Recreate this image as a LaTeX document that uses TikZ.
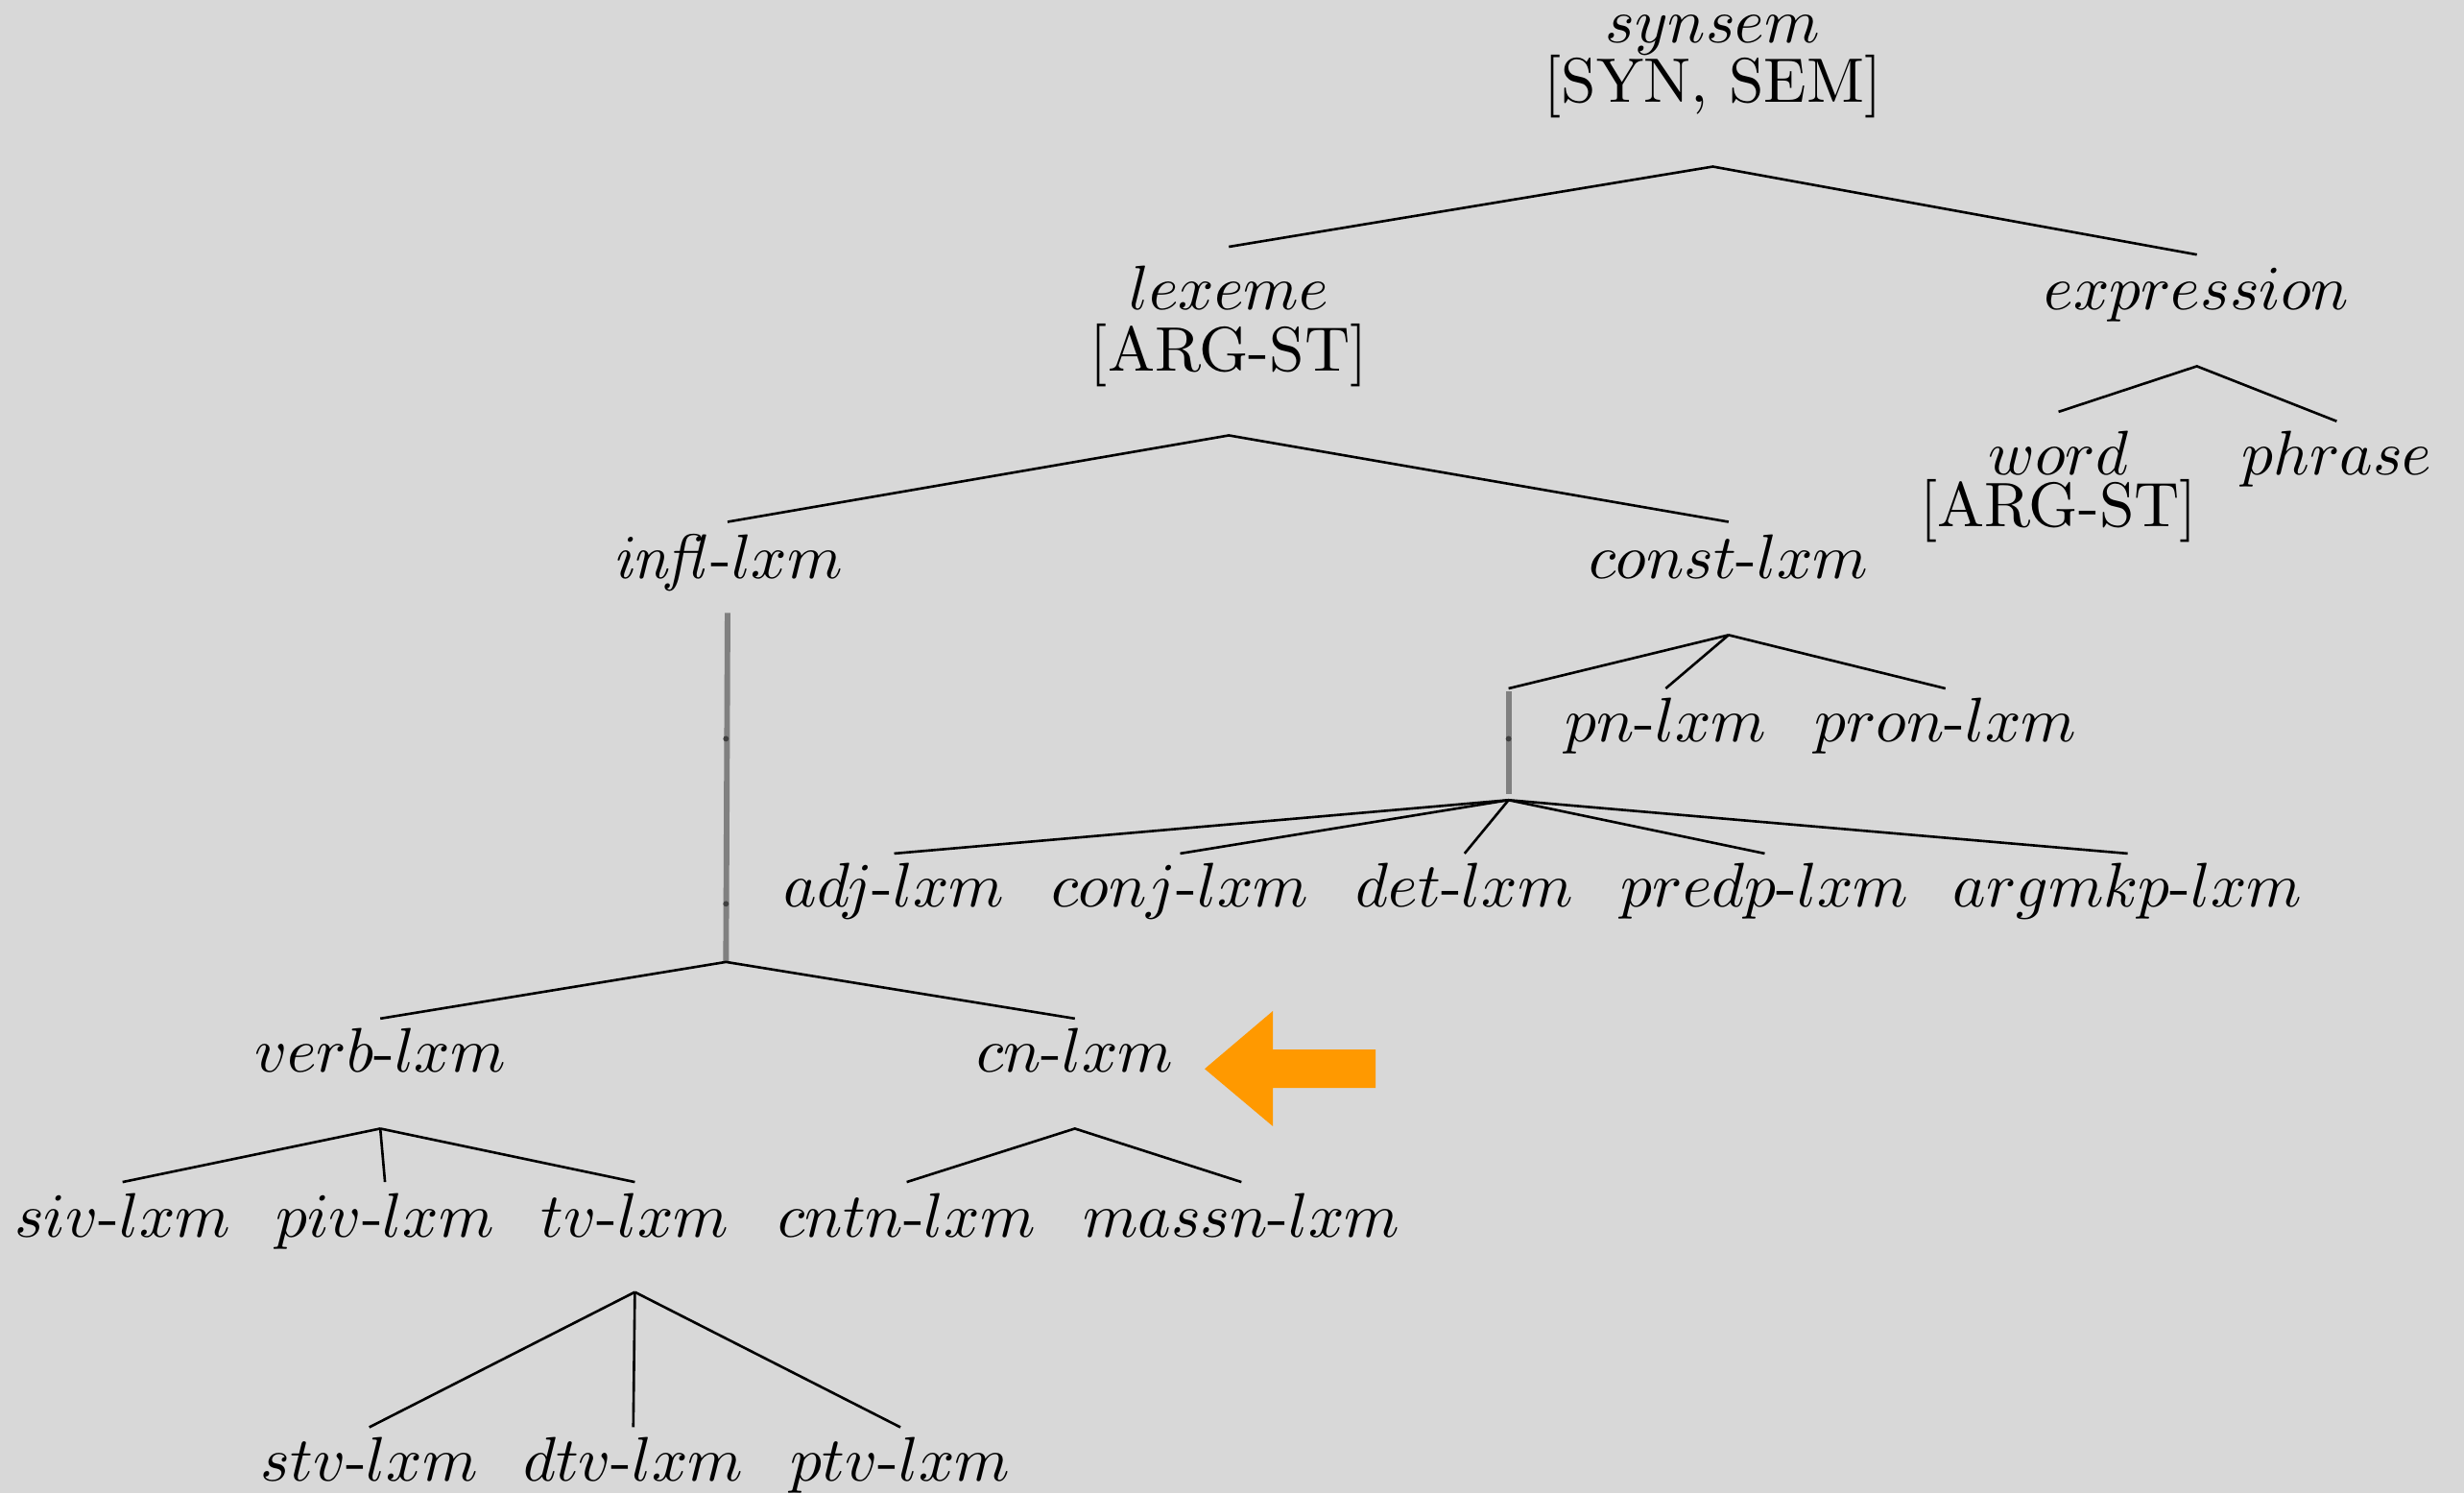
\documentclass[tikz,border=0pt]{standalone}
\definecolor{bg}{HTML}{D8D8D8}
\definecolor{arroworange}{HTML}{FF9900}
\begin{document}
\begin{tikzpicture}[x=0.25pt,y=-0.25pt,
  lbl/.style={anchor=base,inner sep=0pt,outer sep=0pt,font=\fontsize{10}{12}\selectfont},
  edge/.style={draw=black,line width=0.4pt},
  elide/.style={draw=black!50,line width=0.9pt},
  dotmark/.style={fill=black!75,draw=none}]
\fill[bg] (0,0) rectangle (1568,950);
\useasboundingbox (0,0) rectangle (1568,950);

% labels
\node[lbl] (synsem) at (1090,27.5) {$synsem$};
\node[lbl] (synsemf) at (1090,65) {[SYN, SEM]};
\node[lbl] (lexeme) at (782,197) {$lexeme$};
\node[lbl] (lexemef) at (782,236) {[ARG-ST]};
\node[lbl] (expression) at (1398,197) {$expression$};
\node[lbl] (word) at (1310,302) {$word$};
\node[lbl] (wordf) at (1310,335) {[ARG-ST]};
\node[lbl] (phrase) at (1487,302) {$phrase$};
\node[lbl] (infl) at (463,368) {$\mathit{infl}$-$lxm$};
\node[lbl] (const) at (1100,368) {$const$-$lxm$};
\node[lbl] (pn) at (1060,472) {$pn$-$lxm$};
\node[lbl] (pron) at (1238,472) {$pron$-$lxm$};
\node[lbl] (adj) at (569,577) {$adj$-$lxm$};
\node[lbl] (conj) at (751,577) {$conj$-$lxm$};
\node[lbl] (det) at (932,577) {$det$-$lxm$};
\node[lbl] (predp) at (1123,577) {$predp$-$lxm$};
\node[lbl] (argmkp) at (1354,577) {$argmkp$-$lxm$};
\node[lbl] (verb) at (242,682) {$verb$-$lxm$};
\node[lbl] (cn) at (684,682) {$cn$-$lxm$};
\node[lbl] (siv) at (78,787) {$siv$-$lxm$};
\node[lbl] (piv) at (245,787) {$piv$-$lxm$};
\node[lbl] (tv) at (404,787) {$tv$-$lxm$};
\node[lbl] (cntn) at (577,787) {$cntn$-$lxm$};
\node[lbl] (massn) at (790,787) {$massn$-$lxm$};
\node[lbl] (stv) at (235,942) {$stv$-$lxm$};
\node[lbl] (dtv) at (403,942) {$dtv$-$lxm$};
\node[lbl] (ptv) at (573,942) {$ptv$-$lxm$};

% branch points and attachment points
\coordinate (synsemB) at (1090,106);
\coordinate (lexemeT) at (782,157);
\coordinate (expressionT) at (1398,162);
\coordinate (lexemeB) at (782,277);
\coordinate (inflT) at (463,332);
\coordinate (constT) at (1100,332);
\coordinate (expressionB) at (1398,233);
\coordinate (wordT) at (1310,262);
\coordinate (phraseT) at (1487,268);
\coordinate (inflB) at (463,390);
\coordinate (inflM1) at (462,470);
\coordinate (inflM2) at (462,575);
\coordinate (inflE) at (462,612);
\coordinate (verbT) at (242,648);
\coordinate (cnT) at (684,648);
\coordinate (verbB) at (242,718);
\coordinate (sivT) at (78,752);
\coordinate (pivT) at (245,752);
\coordinate (tvT) at (404,752);
\coordinate (cnB) at (684,718);
\coordinate (cntnT) at (577,752);
\coordinate (massnT) at (790,752);
\coordinate (tvB) at (404,822);
\coordinate (stvT) at (235,908);
\coordinate (dtvT) at (403,908);
\coordinate (ptvT) at (573,908);
\coordinate (constB) at (1100,404);
\coordinate (elT) at (960,438);
\coordinate (pnT) at (1060,438);
\coordinate (pronT) at (1238,438);
\coordinate (elS) at (960,440);
\coordinate (elM) at (960,470);
\coordinate (elE) at (960,505);
\coordinate (elB) at (960,509);
\coordinate (adjT) at (569,543);
\coordinate (conjT) at (751,543);
\coordinate (detT) at (932,543);
\coordinate (predpT) at (1123,543);
\coordinate (argmkpT) at (1354,543);

% edges
\draw[edge] (lexemeT) -- (synsemB) -- (expressionT);
\draw[edge] (inflT) -- (lexemeB) -- (constT);
\draw[edge] (wordT) -- (expressionB) -- (phraseT);
\draw[elide] (inflB) -- (inflE);
\fill[dotmark] (inflM1) circle (1.8);
\fill[dotmark] (inflM2) circle (1.8);
\draw[edge] (verbT) -- (inflE) -- (cnT);
\draw[edge] (verbB) -- (sivT);
\draw[edge] (verbB) -- (pivT);
\draw[edge] (verbB) -- (tvT);
\draw[edge] (cntnT) -- (cnB) -- (massnT);
\draw[edge] (tvB) -- (stvT);
\draw[edge] (tvB) -- (dtvT);
\draw[edge] (tvB) -- (ptvT);
\draw[edge] (constB) -- (elT);
\draw[edge] (constB) -- (pnT);
\draw[edge] (constB) -- (pronT);
\draw[elide] (elS) -- (elE);
\fill[dotmark] (elM) circle (1.8);
\draw[edge] (elB) -- (adjT);
\draw[edge] (elB) -- (conjT);
\draw[edge] (elB) -- (detT);
\draw[edge] (elB) -- (predpT);
\draw[edge] (elB) -- (argmkpT);

% orange arrow
\fill[arroworange] (766.6,680) -- (810,643.2) -- (810,667.7) -- (875.4,667.7)
  -- (875.4,692.1) -- (810,692.1) -- (810,716.5) -- cycle;
\end{tikzpicture}
\end{document}
